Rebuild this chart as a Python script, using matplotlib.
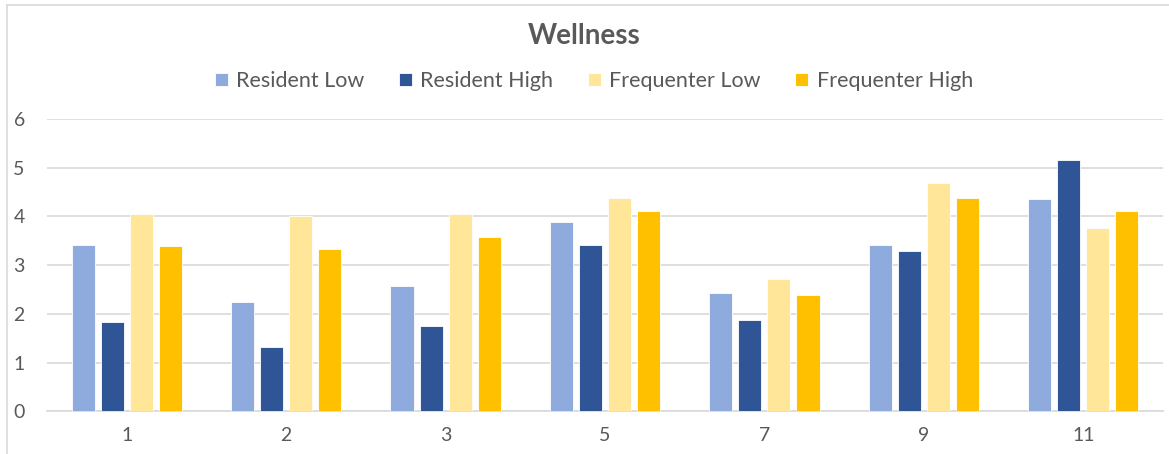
import numpy as np
import matplotlib.pyplot as plt
from matplotlib.lines import Line2D

plt.rcParams['font.family'] = ['Lato', 'DejaVu Sans']

categories = ['1', '2', '3', '5', '7', '9', '11']
series_names = ['Resident Low', 'Resident High', 'Frequenter Low', 'Frequenter High']
resident_low = [3.42, 2.25, 2.58, 3.88, 2.42, 3.42, 4.35]
resident_high = [1.84, 1.33, 1.76, 3.42, 1.88, 3.30, 5.16]
frequenter_low = [4.05, 4.01, 4.05, 4.38, 2.72, 4.68, 3.76]
frequenter_high = [3.39, 3.34, 3.58, 4.12, 2.38, 4.38, 4.12]
colors = ['#8FAADC', '#2F5597', '#FFE699', '#FFC000']

text_color = '#595959'
grid_color = '#D9D9D9'

fig = plt.figure(figsize=(11.69, 4.54), dpi=100)
ax = fig.add_axes([47 / 1169, 1 - 411.3 / 454, 1116 / 1169, 292.3 / 454])

x = np.arange(len(categories))
pitch = 0.182
width = 0.145
all_series = [resident_low, resident_high, frequenter_low, frequenter_high]
for i, (vals, name, c) in enumerate(zip(all_series, series_names, colors)):
    ax.bar(x + (i - 1.5) * pitch, vals, width, color=c, label=name,
           edgecolor='white', linewidth=0.6, zorder=3)

ax.set_xlim(-0.5, len(categories) - 0.5)
ax.set_ylim(0, 6)
ax.set_yticks(range(0, 7))
ax.set_xticks(x)
ax.set_xticklabels(categories)
ax.grid(axis='y', color=grid_color, linewidth=1.2, zorder=0)
for s in ['top', 'right', 'left']:
    ax.spines[s].set_visible(False)
ax.spines['bottom'].set_color(grid_color)
ax.spines['bottom'].set_linewidth(1.2)
ax.tick_params(axis='both', length=0, labelsize=14, colors=text_color)
ax.tick_params(axis='y', pad=16)
ax.tick_params(axis='x', pad=11)

fig.text(0.5, 1 - 36 / 454, 'Wellness', ha='center', va='center',
         fontsize=20, fontweight='bold', color=text_color)

fig.legend(loc='center', bbox_to_anchor=(0.508, 1 - 81 / 454), ncol=4,
           frameon=False, fontsize=15.5, labelcolor=text_color,
           handlelength=0.6, handleheight=0.6, handletextpad=0.4,
           columnspacing=1.6)

# chart frame along top and left
fig.add_artist(Line2D([7 / 1169, 1], [1 - 5 / 454, 1 - 5 / 454],
                      color=grid_color, linewidth=1.2, transform=fig.transFigure))
fig.add_artist(Line2D([7 / 1169, 7 / 1169], [0, 1 - 5 / 454],
                      color=grid_color, linewidth=1.2, transform=fig.transFigure))

fig.savefig('out.png', dpi=100)
